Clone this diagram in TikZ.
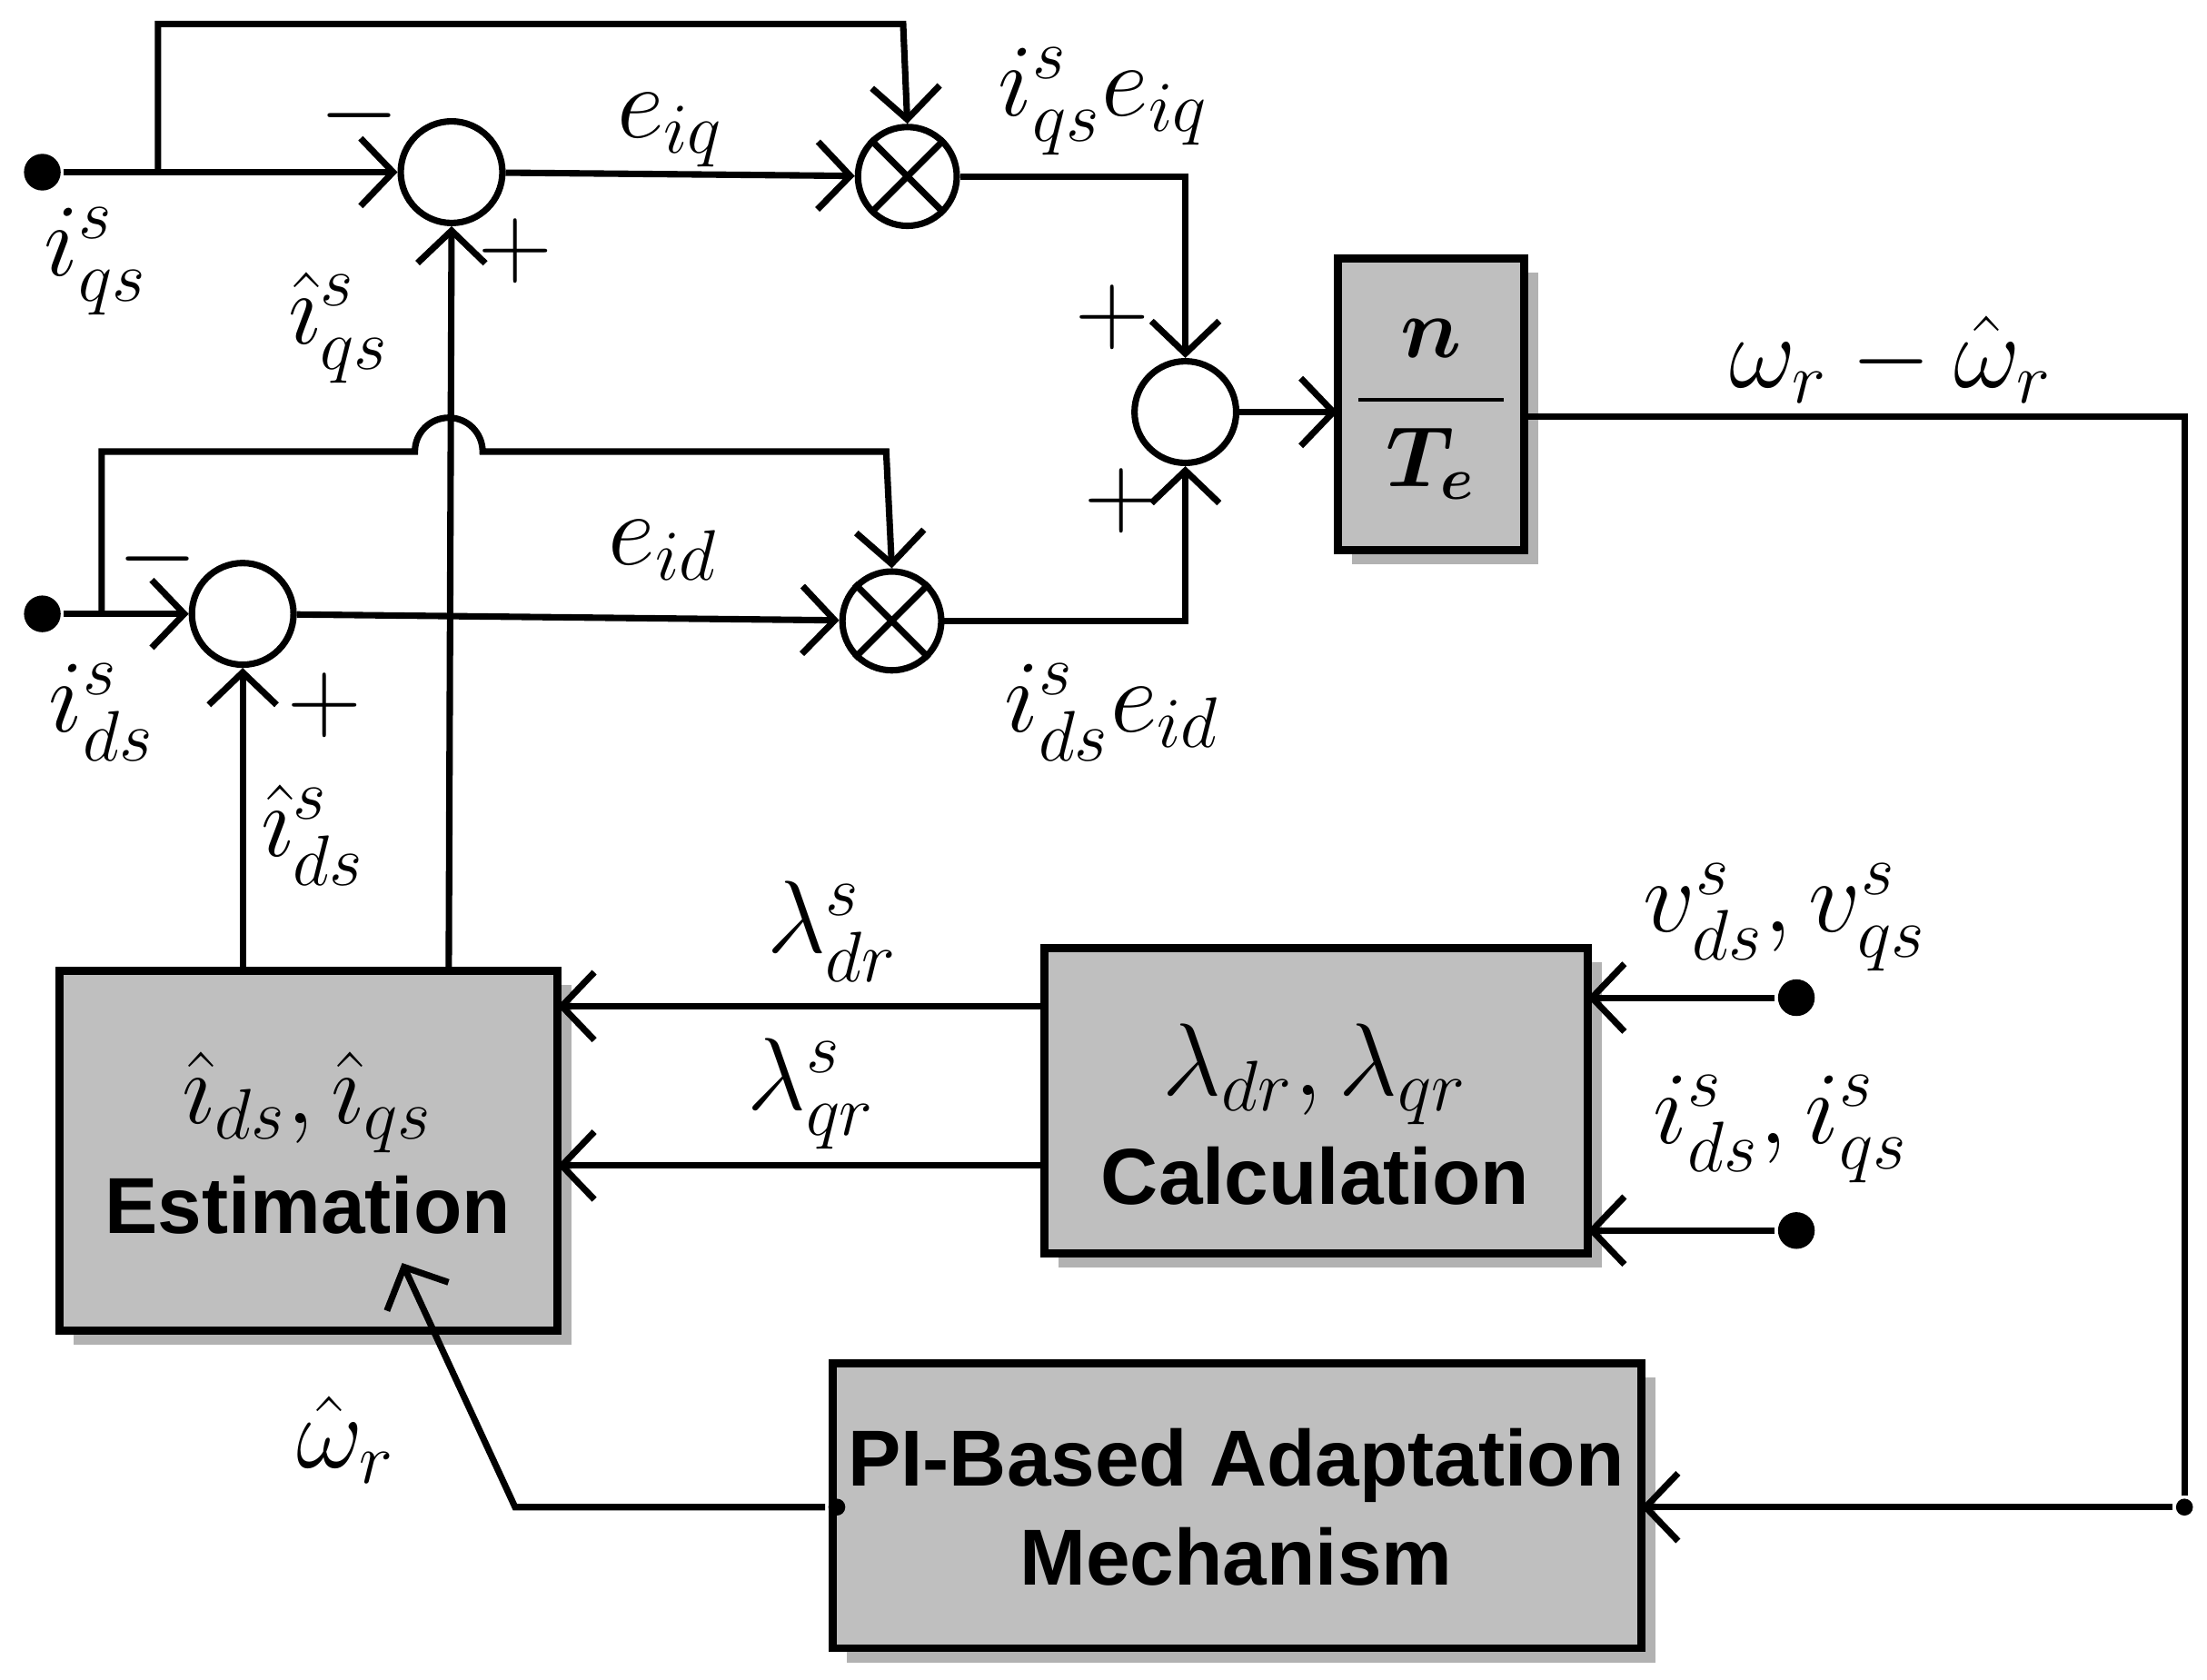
\documentclass[tikz,border=0pt]{standalone}
\usepackage{amsmath,bm}
\usepackage{fontspec}
\newfontfamily\arialb{Liberation Sans}[BoldFont={Liberation Sans Bold}]
\usetikzlibrary{arrows.meta}
\begin{document}
\begin{tikzpicture}[x=0.01cm,y=-0.01cm,line width=1.3pt,
  arr/.style={-{Straight Barb[length=2.3mm,width=4.8mm,line width=1.3pt]}},
  sum/.style={circle,draw,minimum size=0.72cm,inner sep=0pt,fill=white},
  mul/.style={sum,minimum size=0.7cm},
  blk/.style={draw,fill=gray!50,line width=1.6pt},
  shd/.style={fill=gray!60,draw=none},
  dot/.style={circle,fill,inner sep=0pt,minimum size=0.26cm},
  sdot/.style={circle,fill,inner sep=0pt,minimum size=0.12cm},
  lab/.style={font=\fontsize{22}{26}\selectfont},
  sgn/.style={font=\fontsize{22}{26}\selectfont},
  btxt/.style={font=\arialb\bfseries\fontsize{16}{20}\selectfont,align=center}]
\useasboundingbox (0,0) rectangle (1564,1190);
% shadows
\fill[shd] (52,698) rectangle (405,953);
\fill[shd] (750,682) rectangle (1135,898);
\fill[shd] (600,976) rectangle (1173,1178);
\fill[shd] (958,193) rectangle (1090,400);
% boxes
\draw[blk] (42,688) rectangle (395,943);
\node[btxt] (est) at (218,810) {\fontsize{22}{24}\selectfont$\hat\imath_{ds},\hat\imath_{qs}$\\[2pt]Estimation};
\draw[blk] (740,672) rectangle (1125,888);
\node[btxt] (calc) at (932,790) {\fontsize{22}{24}\selectfont$\lambda_{dr},\lambda_{qr}$\\[2pt]Calculation};
\draw[blk] (590,966) rectangle (1163,1168);
\node[btxt] (pi) at (876,1068) {PI-Based Adaptation\\Mechanism};
\draw[blk] (948,183) rectangle (1080,390);
\node[font=\fontsize{18}{22}\selectfont] (te) at (1014,290) {$\bm{\dfrac{n}{\;T_e\;}}$};
\coordinate (teL) at (948,292); \coordinate (teR) at (1080,295);
% junctions
\node[sum] (s1) at (320,122) {};
\node[sum] (s2) at (172,435) {};
\node[sum] (s3) at (840,292) {};
\node[mul] (m1) at (643,125) {};
\node[mul] (m2) at (632,440) {};
\foreach \m in {m1,m2}{\draw (\m.north east)--(\m.south west) (\m.north west)--(\m.south east);}
% inputs
\node[dot] (iq) at (30,122) {};
\node[dot] (id) at (30,435) {};
\node[dot] (v) at (1273,707) {};
\node[dot] (i2) at (1273,872) {};
\node[sdot] (c1) at (1548,1068) {};
\node[sdot] (c2) at (593,1068) {};
% q path
\draw[arr] (iq) -- (s1);
\draw[arr] (112,122) -- (112,17) -- (640,17) -- (m1.north);
\draw[arr] (s1) -- (m1);
\draw[arr] (m1.east) -- (840,125) -- (s3.north);
% d path
\draw[arr] (id) -- (s2);
\draw[arr] (72,435) -- (72,320) -- (294,320) arc[start angle=180,end angle=360,radius=24] -- (628,320) -- (m2.north);
\draw[arr] (s2) -- (m2);
\draw[arr] (m2.east) -- (840,440) -- (s3.south);
\draw[arr] (s3) -- (teL);
% feedback
\draw[arr] (teR) -- (1548,295) -- (c1) -- (1163,1068);
\draw[arr] (c2) -- (365,1068) -- (285,895);
\draw[arr] (318,688) -- (s1.south);
\draw[arr] (172,688) -- (s2.south);
\draw[arr] (740,713) -- (395,713);
\draw[arr] (740,826) -- (395,826);
\draw[arr] (v) -- (1125,707);
\draw[arr] (i2) -- (1125,872);
% signs
\node[sgn] at (255,82) {$-$};
\node[sgn] at (365,178) {$+$};
\node[sgn] at (112,396) {$-$};
\node[sgn] at (230,500) {$+$};
\node[sgn] at (788,225) {$+$};
\node[sgn] at (795,355) {$+$};
% labels
\node[lab] at (68,185) {$i^s_{qs}$};
\node[lab] at (72,505) {$i^s_{ds}$};
\node[lab] at (240,232) {$\hat\imath^s_{qs}$};
\node[lab] at (222,592) {$\hat\imath^s_{ds}$};
\node[lab] at (475,92) {$e_{iq}$};
\node[lab] at (470,390) {$e_{id}$};
\node[lab] at (782,72) {$i^s_{qs}e_{iq}$};
\node[lab] at (788,505) {$i^s_{ds}e_{id}$};
\node[lab] at (1340,255) {$\omega_r-\hat\omega_r$};
\node[lab] at (590,660) {$\lambda^s_{dr}$};
\node[lab] at (575,775) {$\lambda^s_{qr}$};
\node[lab] at (1265,650) {$v^s_{ds},v^s_{qs}$};
\node[lab] at (1262,800) {$i^s_{ds},i^s_{qs}$};
\node[lab] at (245,1020) {$\hat\omega_r$};
\end{tikzpicture}
\end{document}
